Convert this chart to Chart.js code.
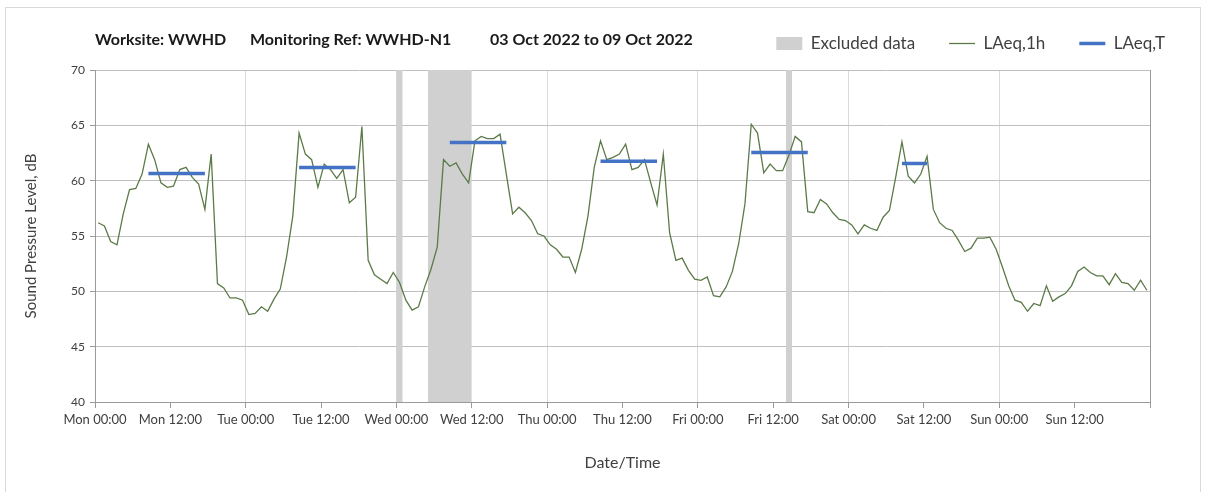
<!DOCTYPE html>
<html>
<head>
<meta charset="utf-8">
<script src="https://cdn.jsdelivr.net/npm/chart.js@4/dist/chart.umd.min.js"></script>
<style>
  body { margin: 0; background: #ffffff; }
  #wrap { width: 1208px; height: 492px; }
</style>
</head>
<body>
<div id="wrap"><canvas id="noiseChart" width="1208" height="492"></canvas></div>
<script>
// hourly LAeq,1h values, Mon 00:00 .. Sun 23:00
var laeq1h = [
  56.2, 55.9, 54.5, 54.2, 57.0, 59.2, 59.3, 60.6, 63.3, 61.9, 59.8, 59.4,
  59.5, 61.0, 61.2, 60.3, 59.7, 57.4, 62.4, 50.7, 50.3, 49.4, 49.4, 49.2,
  47.9, 48.0, 48.6, 48.2, 49.3, 50.2, 53.1, 56.8, 64.3, 62.4, 61.9, 59.4,
  61.5, 61.0, 60.2, 61.0, 58.0, 58.5, 64.9, 52.8, 51.5, 51.1, 50.7, 51.7,
  50.8, 49.2, 48.3, 48.6, 50.4, 52.0, 54.0, 61.9, 61.3, 61.6, 60.6, 59.8,
  63.6, 64.0, 63.8, 63.8, 64.2, 60.6, 57.0, 57.6, 57.1, 56.4, 55.2, 55.0,
  54.2, 53.8, 53.1, 53.1, 51.7, 53.8, 56.8, 61.2, 63.6, 61.9, 62.1, 62.4,
  63.3, 61.0, 61.2, 61.9, 59.8, 57.8, 62.4, 55.3, 52.8, 53.0, 51.9, 51.1,
  51.0, 51.3, 49.6, 49.5, 50.4, 51.8, 54.3, 57.9, 65.1, 64.3, 60.7, 61.5,
  60.9, 60.9, 62.3, 64.0, 63.5, 57.2, 57.1, 58.3, 57.9, 57.1, 56.5, 56.4,
  56.0, 55.2, 56.0, 55.7, 55.5, 56.7, 57.3, 60.3, 63.5, 60.4, 59.8, 60.6,
  62.2, 57.4, 56.2, 55.7, 55.5, 54.6, 53.6, 53.9, 54.8, 54.8, 54.9, 53.8,
  52.2, 50.5, 49.2, 49.0, 48.2, 48.9, 48.7, 50.5, 49.1, 49.5, 49.8, 50.5,
  51.8, 52.2, 51.7, 51.4, 51.4, 50.6, 51.6, 50.8, 50.7, 50.1, 51.0, 50.1
];

// LAeq,T periods (hours from Mon 00:00)
var periodStart = [8.5, 32.5, 56.5, 80.5, 104.5, 128.5];
var periodEnd   = [17.5, 41.5, 65.5, 89.5, 113.5, 132.5];
var periodLevel = [60.65, 61.2, 63.45, 61.75, 62.55, 61.55];

// excluded data periods (hours from Mon 00:00)
var excludedStart = [48, 53, 110];
var excludedEnd   = [49, 60, 111];

var dayNames = ["Mon", "Tue", "Wed", "Thu", "Fri", "Sat", "Sun"];
var titleParts = ["Worksite: WWHD", "Monitoring Ref: WWHD-N1", "03 Oct 2022 to 09 Oct 2022"];

var hourlyPoints = laeq1h.map(function(v, i) { return {x: i + 0.5, y: v}; });

var periodPoints = [];
for (var i = 0; i < periodStart.length; i++) {
  periodPoints.push({x: periodStart[i], y: periodLevel[i]});
  periodPoints.push({x: periodEnd[i], y: periodLevel[i]});
  periodPoints.push({x: periodEnd[i], y: null});
}

var excludedPoints = [];
for (var i = 0; i < excludedStart.length; i++) {
  excludedPoints.push({x: excludedStart[i], y: 70});
  excludedPoints.push({x: excludedEnd[i], y: 70});
  excludedPoints.push({x: excludedEnd[i], y: null});
}

// title text and outer frame, drawn on the canvas
var framePlugin = {
  id: 'frame',
  afterLayout: function(chart) {
    // legend sits a bit higher and further right than Chart.js puts it
    chart.legend.left += 49;
    chart.legend.right += 49;
    chart.legend.top -= 8;
    chart.legend.bottom -= 8;
  },
  afterDraw: function(chart) {
    var ctx = chart.ctx;
    ctx.save();
    ctx.strokeStyle = '#d9d9d9';
    ctx.lineWidth = 1;
    ctx.strokeRect(5.5, 7.5, 1195, 490);
    ctx.font = 'bold 16px Lato';
    ctx.fillStyle = '#1a1a1a';
    ctx.textBaseline = 'middle';
    var xs = [95, 250, 490];
    for (var i = 0; i < titleParts.length; i++) {
      ctx.fillText(titleParts[i], xs[i], 40);
    }
    ctx.restore();
  }
};

var chart = new Chart(document.getElementById('noiseChart'), {
  type: 'line',
  data: {
    datasets: [
      {
        label: 'Excluded data',
        data: excludedPoints,
        backgroundColor: '#d0d0d0',
        borderColor: '#d0d0d0',
        borderWidth: 0,
        fill: 'start',
        pointRadius: 0,
        pointStyle: 'rect',
        spanGaps: false,
        order: 3
      },
      {
        label: 'LAeq,1h',
        data: hourlyPoints,
        borderColor: '#5b7a48',
        backgroundColor: '#5b7a48',
        borderWidth: 1.3,
        pointRadius: 0,
        pointStyle: 'line',
        tension: 0,
        fill: false,
        order: 2
      },
      {
        label: 'LAeq,T',
        data: periodPoints,
        borderColor: '#4472c4',
        backgroundColor: '#4472c4',
        borderWidth: 3.5,
        pointRadius: 0,
        pointStyle: 'line',
        spanGaps: false,
        fill: false,
        order: 1
      }
    ]
  },
  options: {
    responsive: false,
    animation: false,
    layout: { padding: { left: 22, right: 58, top: 9, bottom: 20 } },
    plugins: {
      tooltip: { enabled: false },
      legend: {
        position: 'top',
        align: 'end',
        labels: {
          usePointStyle: true,
          pointStyleWidth: 26,
          boxHeight: 13,
          padding: 34,
          color: '#404040',
          font: { family: 'Lato', size: 17 },
          sort: function(a, b) { return a.datasetIndex - b.datasetIndex; }
        }
      }
    },
    scales: {
      x: {
        type: 'linear',
        min: 0,
        max: 168,
        afterFit: function(scale) { scale.height = 70; },
        ticks: {
          stepSize: 12,
          autoSkip: false,
          maxRotation: 0,
          padding: 4,
          color: '#404040',
          font: { family: 'Lato', size: 13 },
          callback: function(v) {
            if (v >= 168) return '';
            return dayNames[Math.floor(v / 24)] + (v % 24 === 0 ? ' 00:00' : ' 12:00');
          }
        },
        grid: {
          color: function(c) {
            var v = c.tick ? c.tick.value : 0;
            if (v === 168) return '#9a9a9a';
            if (v === 0) return 'rgba(0,0,0,0)';
            return v % 24 === 0 ? '#d9d9d9' : 'rgba(0,0,0,0)';
          },
          tickColor: '#9a9a9a',
          tickLength: 6,
          lineWidth: 1
        },
        border: { color: '#9a9a9a' },
        title: {
          display: true,
          text: 'Date/Time',
          color: '#404040',
          font: { family: 'Lato', size: 16 },
          padding: { top: 0, bottom: 0 }
        }
      },
      y: {
        min: 40,
        max: 70,
        afterFit: function(scale) { scale.width = 73; },
        ticks: {
          stepSize: 5,
          padding: 5,
          color: '#404040',
          font: { family: 'Lato', size: 12 }
        },
        grid: {
          color: '#c0c0c0',
          tickColor: '#9a9a9a',
          tickLength: 5
        },
        border: { color: '#9a9a9a' },
        title: {
          display: true,
          text: 'Sound Pressure Level, dB',
          color: '#404040',
          font: { family: 'Lato', size: 15 },
          padding: { top: 0, bottom: 0 }
        }
      }
    }
  },
  plugins: [framePlugin]
});
</script>
</body>
</html>
